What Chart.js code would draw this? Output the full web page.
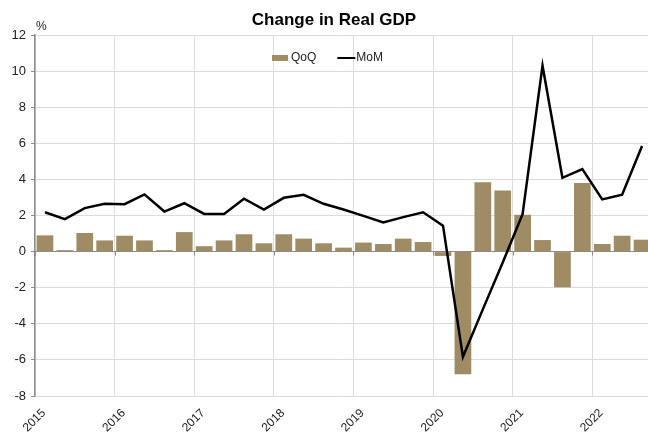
<!DOCTYPE html>
<html>
<head>
<meta charset="utf-8">
<title>Change in Real GDP</title>
<script src="https://cdn.jsdelivr.net/npm/chart.js@4.4.0/dist/chart.umd.min.js"></script>
<style>
  html, body { margin: 0; padding: 0; background: #fff; }
  #marco { width: 648px; height: 433px; overflow: hidden; }
  #grafico { display: block; }
</style>
</head>
<body>
<div id="marco"><canvas id="grafico" width="664" height="433"></canvas></div>
<script>
// DATOS TRIMESTRALES (2015 T1 - 2022 T3)
const titulo = "Change in Real GDP";
const trimestres = [
  "2015 Q1", "2015 Q2", "2015 Q3", "2015 Q4",
  "2016 Q1", "2016 Q2", "2016 Q3", "2016 Q4",
  "2017 Q1", "2017 Q2", "2017 Q3", "2017 Q4",
  "2018 Q1", "2018 Q2", "2018 Q3", "2018 Q4",
  "2019 Q1", "2019 Q2", "2019 Q3", "2019 Q4",
  "2020 Q1", "2020 Q2", "2020 Q3", "2020 Q4",
  "2021 Q1", "2021 Q2", "2021 Q3", "2021 Q4",
  "2022 Q1", "2022 Q2", "2022 Q3"
];
const anios = ["2015", "2016", "2017", "2018", "2019", "2020", "2021", "2022"];

const qoq = [
  0.9, 0.08, 1.03, 0.62,
  0.88, 0.62, 0.08, 1.08,
  0.3, 0.62, 0.96, 0.46,
  0.96, 0.72, 0.46, 0.22,
  0.5, 0.42, 0.72, 0.53,
  -0.24, -6.8, 3.84, 3.38,
  2.04, 0.64, -1.98, 3.8,
  0.42, 0.88, 0.66
];
const mom = [
  2.18, 1.8, 2.41, 2.65,
  2.63, 3.17, 2.22, 2.68,
  2.09, 2.09, 2.93, 2.33,
  2.98, 3.15, 2.65, 2.33,
  1.98, 1.61, 1.91, 2.18,
  1.44, -5.83, -3.2, -0.6,
  2.09, 10.3, 4.09, 4.57,
  2.89, 3.15, 5.85
];

const fuente = "'Liberation Sans', Arial, sans-serif";
const colorBarra = "#A08C64";
const colorEje = "#8c8c8c";
const colorTexto = "#222";

// TITULO, MARCAS EN LA LINEA CERO, ETIQUETA % Y LEYENDA
const marcasPlugin = {
  id: "marcas",
  beforeDatasetsDraw(chart) {
    const { ctx, scales } = chart;
    const y0 = scales.y.getPixelForValue(0);
    const medio = (scales.x.getPixelForValue(1) - scales.x.getPixelForValue(0)) / 2;
    ctx.save();
    ctx.strokeStyle = colorEje;
    ctx.lineWidth = 1;
    for (let i = 0; i < trimestres.length; i += 4) {
      const px = Math.round(scales.x.getPixelForValue(i) - medio) + 0.5;
      ctx.beginPath();
      ctx.moveTo(px, y0);
      ctx.lineTo(px, y0 + 4);
      ctx.stroke();
    }
    ctx.restore();
  },
  afterDraw(chart) {
    const { ctx, chartArea } = chart;
    ctx.save();
    ctx.textBaseline = "middle";

    ctx.font = `bold 17px ${fuente}`;
    ctx.fillStyle = "#000";
    ctx.textAlign = "center";
    ctx.fillText(titulo, chart.width / 2 + 2, 20);

    ctx.font = `12px ${fuente}`;
    ctx.fillStyle = colorTexto;
    ctx.textAlign = "left";
    ctx.fillText("%", chartArea.left + 1, chartArea.top - 8);

    // leyenda
    const y = chartArea.top + 23;
    let x = chartArea.left + 237;
    const [barras, linea] = chart.data.datasets;
    ctx.fillStyle = barras.backgroundColor;
    ctx.fillRect(x, y - 3, 16, 6);
    x += 19;
    ctx.fillStyle = colorTexto;
    ctx.fillText(barras.label, x, y);
    x += ctx.measureText(barras.label).width + 21;
    ctx.strokeStyle = linea.borderColor;
    ctx.lineWidth = 2;
    ctx.beginPath();
    ctx.moveTo(x, y);
    ctx.lineTo(x + 18, y);
    ctx.stroke();
    ctx.fillText(linea.label, x + 19, y);
    ctx.restore();
  }
};

const grafico = new Chart(document.getElementById("grafico"), {
  data: {
    labels: trimestres,
    datasets: [
      {
        type: "bar",
        label: "QoQ",
        data: qoq,
        backgroundColor: colorBarra,
        borderWidth: 0,
        categoryPercentage: 1,
        barPercentage: 0.84,
        order: 2
      },
      {
        type: "line",
        label: "MoM",
        data: mom,
        borderColor: "#000",
        borderWidth: 2.5,
        pointRadius: 0,
        tension: 0,
        fill: false,
        order: 1
      }
    ]
  },
  options: {
    responsive: false,
    animation: false,
    layout: { padding: { left: 0, right: 12, top: 35, bottom: 0 } },
    plugins: {
      legend: { display: false },
      tooltip: { enabled: false },
      title: { display: false }
    },
    scales: {
      x: {
        type: "category",
        offset: true,
        grid: {
          offset: true,
          drawTicks: false,
          color: (c) => (c.index % 4 === 0 ? "#dcdcdc" : "rgba(0,0,0,0)"),
          lineWidth: 1
        },
        border: { display: false },
        ticks: {
          autoSkip: false,
          minRotation: 45,
          maxRotation: 45,
          padding: 10,
          labelOffset: -1,
          color: colorTexto,
          font: { family: fuente, size: 12 },
          callback: (valor, i) => (i % 4 === 0 ? anios[i / 4] : "")
        },
        afterFit: (escala) => { escala.height = 37; }
      },
      y: {
        min: -8,
        max: 12,
        ticks: {
          stepSize: 2,
          padding: 5,
          color: colorTexto,
          font: { family: fuente, size: 13 }
        },
        grid: {
          color: (c) => (c.tick && c.tick.value === 0 ? colorEje : "#dcdcdc"),
          tickColor: colorEje,
          tickLength: 4
        },
        border: { color: colorEje, width: 1.5 },
        afterFit: (escala) => { escala.width = 35; }
      }
    }
  },
  plugins: [marcasPlugin]
});
</script>
</body>
</html>
